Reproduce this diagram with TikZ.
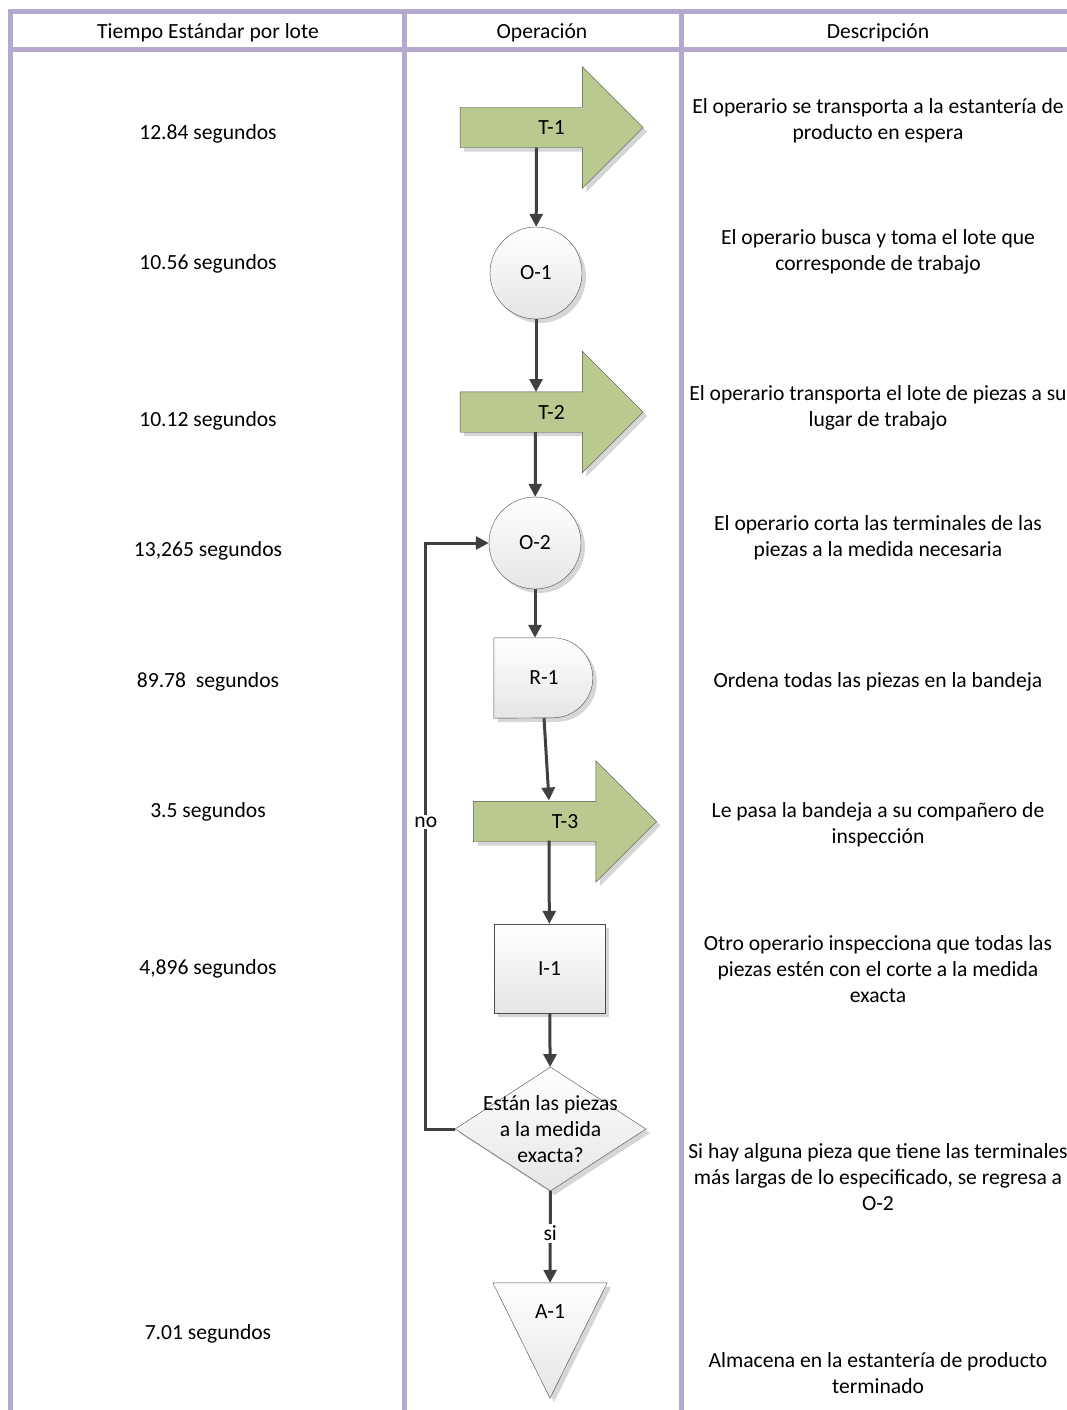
\documentclass[tikz,border=0pt]{standalone}
\usepackage{fontspec}
\setmainfont{Carlito}
\usetikzlibrary{positioning,calc,arrows.meta,shapes.arrows,shapes.geometric,shadows,backgrounds}
\definecolor{grd}{RGB}{180,168,206}
\definecolor{trg}{RGB}{186,201,143}
\definecolor{lnk}{RGB}{64,64,64}
% transport label, nudged right inside the arrow body
\newcommand{\tlab}[1]{\hspace*{10pt}#1\hspace*{-10pt}}
\tikzset{
  txt/.style ={font=\fontsize{21.6}{26}\selectfont},
  shd/.style ={drop shadow={shadow xshift=4pt, shadow yshift=-4pt, fill=black!18, opacity=.9}},
  ln/.style  ={draw=grd, line width=5pt},
  hdr/.style ={txt, yshift=-2pt},
  tm/.style  ={txt, yshift=-2pt},
  ds/.style  ={txt, align=center, yshift=-2pt},
  tr/.style  ={single arrow, draw=black!70, fill=trg, shd, minimum height=183pt, single arrow head extend=40.5pt, text height=14pt, text depth=0pt, inner xsep=4pt, inner ysep=13pt, txt},
  op/.style  ={circle, draw=black!70, top color=white, bottom color=black!10, shd, minimum size=92pt, inner sep=0pt, txt},
  dlk/.style ={rectangle, minimum width=100pt, minimum height=80pt, inner sep=0pt, txt},
  dl/.style  ={draw=black!70, top color=white, bottom color=black!10, shd},
  ins/.style ={rectangle, draw=black!70, top color=white, bottom color=black!10, shd, minimum width=111pt, minimum height=89pt, txt},
  dec/.style ={diamond, draw=black!70, top color=white, bottom color=black!10, shd, minimum width=191pt, minimum height=124pt, inner sep=0pt, txt},
  alm/.style ={rectangle, minimum width=114pt, minimum height=58pt, inner sep=0pt, txt},
  e/.style   ={-{Triangle[length=13pt,width=13pt]}, draw=lnk, line width=3pt},
  el/.style  ={txt, fill=white, inner sep=2pt},
}
\begin{document}
\begin{tikzpicture}[x=1pt,y=-1pt]
\useasboundingbox (0,0) rectangle (1067,1410);
%% ---------- table grid ----------
\draw[ln] (8,11.5) -- (1080,11.5);
\draw[ln] (8,49.5) -- (1080,49.5);
\foreach \gx in {10.5,404.5,681.5} \draw[ln] (\gx,9) -- (\gx,1420);
\node[hdr] (h1) at (208,31) {Tiempo Estándar por lote};
\node[hdr] (h2) at (542,31) {Operación};
\node[hdr] (h3) at (878,31) {Descripción};
%% ---------- process chart ----------
\node[tr]  (T1) at (541.5,127.5) {\tlab{T-1}};
\node[op]  (O1) at (536,273) {O-1};
\node[tr]  (T2) at (541.5,412) {\tlab{T-2}};
\node[op]  (O2) at (535,543) {O-2};
\node[dlk] (R1) at (544,678) {R-1};
\node[tr]  (T3) at (555,821.5) {\tlab{T-3}};
\node[ins] (I1) at (549.5,968.5) {I-1};
\node[dec] (D)  at (550.5,1129) {\makebox[0pt]{\smash{\raisebox{-7pt}{\begin{tabular}{@{}c@{}}Están las piezas\\a la medida\\exacta?\end{tabular}}}}};
\node[alm] (A1) at (550,1312) {A-1};
% delay and storage outlines sit behind their labels
\begin{scope}[on background layer]
\path[dl] (R1.north west) -- ++(59,0) arc[start angle=90, end angle=-90, radius=40pt] -- (R1.south west) -- cycle;
\path[dl] (A1.north west) -- (A1.north east) -- ($(A1.south)+(0,57)$) -- cycle;
\end{scope}
%% ---------- connectors ----------
\draw[e] ($(T1.center)+(-5,20)$) -- (O1);
\draw[e] (O1) -- ($(T2.center)+(-5.5,-20)$);
\draw[e] ($(T2.center)+(-6,20)$) -- (O2);
\draw[e] (O2) -- (O2.south |- R1.north);
\draw[e] (R1.south) -- ($(T3.center)+(-6,-21)$);
\draw[e] ($(T3.center)+(-6,19)$) -- (I1);
\draw[e] (I1) -- (D);
\draw[e] (D) -- (A1) node[el, pos=.46] {si};
\coordinate (lp) at ($(D.west)+(-29,0)$);
\draw[e] (D.west) -- (lp) |- (O2.west) node[el, pos=.262] {no};
%% ---------- times ----------
\node[tm] (t1) at (208,132)  {12.84 segundos};
\node[tm] (t2) at (208,262)  {10.56 segundos};
\node[tm] (t3) at (208,419)  {10.12 segundos};
\node[tm] (t4) at (208,549)  {13,265 segundos};
\node[tm] (t5) at (208,680)  {89.78\ \ segundos};
\node[tm] (t6) at (208,810)  {3.5 segundos};
\node[tm] (t7) at (208,967)  {4,896 segundos};
\node[tm] (t8) at (208,1332) {7.01 segundos};
%% ---------- descriptions ----------
\node[ds] (d1) at (878,119)    {El operario se transporta a la estantería de\\producto en espera};
\node[ds] (d2) at (878,249.5)  {El operario busca y toma el lote que\\corresponde de trabajo};
\node[ds] (d3) at (878,406)    {El operario transporta el lote de piezas a su\\lugar de trabajo};
\node[ds] (d4) at (878,536)    {El operario corta las terminales de las\\piezas a la medida necesaria};
\node[ds] (d5) at (878,680)    {Ordena todas las piezas en la bandeja};
\node[ds] (d6) at (878,823)    {Le pasa la bandeja a su compañero de\\inspección};
\node[ds] (d7) at (878,967)    {Otro operario inspecciona que todas las\\piezas estén con el corte a la medida\\exacta};
\node[ds] (d8) at (878,1175)   {Si hay alguna pieza que tiene las terminales\\más largas de lo especificado, se regresa a\\O-2};
\node[ds] (d9) at (878,1371)   {Almacena en la estantería de producto\\terminado};
\end{tikzpicture}
\end{document}
